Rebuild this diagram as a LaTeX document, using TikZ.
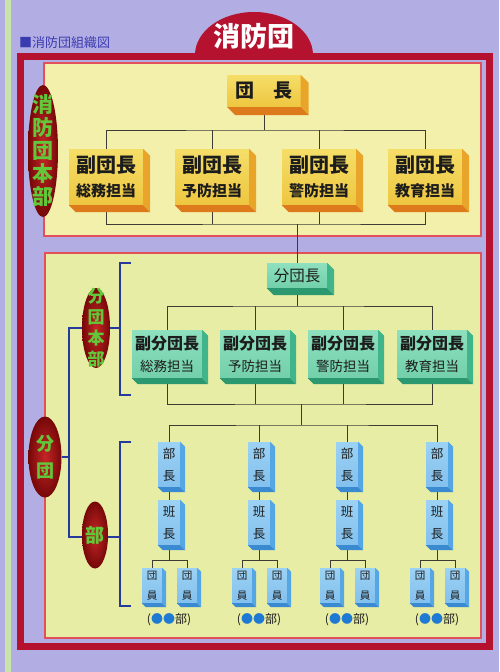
\documentclass[tikz,border=0pt]{standalone}
\usepackage{fontspec}
\setmainfont{Noto Sans CJK JP}
\usepackage{tikz}
\usetikzlibrary{calc,shapes.geometric}

\definecolor{lilac}{HTML}{B2AEE4}
\definecolor{stripe}{HTML}{C8E4A6}
\definecolor{framered}{HTML}{B4122E}
\definecolor{pinkline}{HTML}{E2505C}
\definecolor{paneltop}{HTML}{F3F0AC}
\definecolor{panellow}{HTML}{E7EDA4}
\definecolor{ink}{HTML}{1C1C1C}
\definecolor{wire}{HTML}{3C3C34}
\definecolor{navy}{HTML}{263A9E}
\definecolor{leaf}{HTML}{62C83A}
\definecolor{dotblue}{HTML}{1E7AD2}
\definecolor{capblue}{HTML}{3B3BB0}
\definecolor{goldtop}{HTML}{F5DE68}
\definecolor{goldlow}{HTML}{EEC640}
\definecolor{goldside}{HTML}{E9A52A}
\definecolor{goldbottom}{HTML}{DD7A1C}
\definecolor{minttop}{HTML}{8EE0BE}
\definecolor{mintlow}{HTML}{72D0AA}
\definecolor{mintside}{HTML}{40B48A}
\definecolor{mintbottom}{HTML}{2C9870}
\definecolor{skytop}{HTML}{9CD2F4}
\definecolor{skylow}{HTML}{82C0EE}
\definecolor{skyside}{HTML}{55A6E4}
\definecolor{skybottom}{HTML}{3A8AD2}
\definecolor{capin}{HTML}{C62626}
\definecolor{capout}{HTML}{760808}

\pgfdeclarelayer{bg}
\pgfdeclarelayer{wires}
\pgfsetlayers{bg,wires,main}

% box with a right side and a bottom face
\newcommand{\hako}[6][]{%
  \node[#3,#1] (#2) at (#4) {#6};
  \fill[#3 side] (#2.north east) -- ++(#5,#5) -- ($(#2.south east)+(#5,#5)$) -- (#2.south east) -- cycle;
  \fill[#3 bottom] (#2.south west) -- (#2.south east) -- ($(#2.south east)+(#5,#5)$) -- ($(#2.south west)+(#5,#5)$) -- cycle;
}

\begin{document}
\begin{tikzpicture}[x=1pt, y=-1pt,
  conn/.style={draw=wire, line width=0.9pt},
  blueline/.style={draw=navy, line width=1.5pt},
  panel/.style={draw=pinkline, line width=2pt},
  gold/.style={top color=goldtop, bottom color=goldlow, inner sep=0pt, align=center, text=ink},
  gold side/.style={fill=goldside},
  gold bottom/.style={fill=goldbottom},
  mint/.style={top color=minttop, bottom color=mintlow, inner sep=0pt, align=center, text=ink},
  mint side/.style={fill=mintside},
  mint bottom/.style={fill=mintbottom},
  sky/.style={top color=skytop, bottom color=skylow, inner sep=0pt, align=center, text=ink},
  sky side/.style={fill=skyside},
  sky bottom/.style={fill=skybottom},
  headbox/.style={minimum width=73pt, minimum height=32pt, font=\bfseries\fontsize{19}{19}\selectfont},
  vicebox/.style={minimum width=74pt, minimum height=56pt, font=\bfseries\fontsize{20}{24}\selectfont},
  chiefbox/.style={minimum width=60pt, minimum height=25pt, font=\fontsize{15.5}{16}\selectfont},
  subbox/.style={minimum width=70pt, minimum height=48pt, font=\fontsize{16}{22}\selectfont},
  tallbox/.style={minimum width=22pt, minimum height=45pt, font=\fontsize{12.5}{22}\selectfont},
  tinybox/.style={minimum width=20pt, minimum height=35pt, font=\fontsize{10.5}{20}\selectfont},
  capsule/.style={ellipse, inner color=capin, outer color=capout, inner sep=0pt},
  capsule text/.style={text=leaf, align=center, inner sep=0pt},
  tagtext/.style={text=ink, inner sep=0pt, font=\fontsize{12}{12}\selectfont},
]
\useasboundingbox (0,0) rectangle (499,672);

% Sfondo e cornice
\begin{pgfonlayer}{bg}
  \fill[lilac] (0,0) rectangle (499,672);
  \fill[stripe] (5,0) rectangle (11,672);
  \draw[panel, fill=paneltop] (44,63) rectangle (481,236);
  \draw[panel, fill=panellow] (45,253) rectangle (481,638);
  \draw[framered, line width=7pt] (20,56.5) rectangle (489,646);
  \fill[framered] (195,58) -- (195,55) arc[start angle=180, end angle=360, x radius=59, y radius=43] -- (313,58) -- cycle;
\end{pgfonlayer}

\node[text=white, font=\bfseries\fontsize{27}{27}\selectfont] (title) at (254,36) {消防団};
\node[anchor=west, text=capblue, inner sep=0pt, font=\fontsize{13}{13}\selectfont] (caption) at (19,43) {■消防団組織図};

%団本部
\hako[headbox]{dancho}{gold}{264,91}{8}{団\hspace{1em}長}
\hako[vicebox]{fuku1}{gold}{106,177}{7}{副団長\\{\fontsize{15}{15}\selectfont 総務担当}}
\hako[vicebox]{fuku2}{gold}{212,177}{7}{副団長\\{\fontsize{15}{15}\selectfont 予防担当}}
\hako[vicebox]{fuku3}{gold}{319,177}{7}{副団長\\{\fontsize{15}{15}\selectfont 警防担当}}
\hako[vicebox]{fuku4}{gold}{425,177}{7}{副団長\\{\fontsize{15}{15}\selectfont 教育担当}}

% 分団本部
\hako[chiefbox]{bundancho}{mint}{297,275.5}{7}{分団長}
\hako[subbox]{fukub1}{mint}{167,354}{6}{{\bfseries 副分団長}\\{\fontsize{13.5}{14}\selectfont 総務担当}}
\hako[subbox]{fukub2}{mint}{255,354}{6}{{\bfseries 副分団長}\\{\fontsize{13.5}{14}\selectfont 予防担当}}
\hako[subbox]{fukub3}{mint}{343,354}{6}{{\bfseries 副分団長}\\{\fontsize{13.5}{14}\selectfont 警防担当}}
\hako[subbox]{fukub4}{mint}{432,354}{6}{{\bfseries 副分団長}\\{\fontsize{13.5}{14}\selectfont 教育担当}}

% 部
\foreach \g/\x in {1/169,2/259,3/347,4/437}{
  \hako[tallbox]{bucho\g}{sky}{\x,464.5}{5}{部\\長}
  \hako[tallbox]{hancho\g}{sky}{\x,522.5}{5}{班\\長}
  \hako[tinybox]{danA\g}{sky}{\x-17,585.5}{4}{団\\員}
  \hako[tinybox]{danB\g}{sky}{\x+18,585.5}{4}{団\\員}
  \node[tagtext] (tag\g) at (\x,620) {(\textcolor{dotblue}{●●}部)};
}

% Ovali a sinistra
\node[capsule, minimum width=30pt, minimum height=132pt] (honbu) at (43,151) {};
\node[capsule text, font=\bfseries\fontsize{21}{23}\selectfont] (honbuT) at (honbu) {消\\防\\団\\本\\部};
\node[capsule, minimum width=33pt, minimum height=81pt] (bundan) at (45,457) {};
\node[capsule text, font=\bfseries\fontsize{18}{27}\selectfont] (bundanT) at (bundan) {分\\団};
\node[capsule, minimum width=28pt, minimum height=80pt] (bdhonbu) at (96,328) {};
\node[capsule text, font=\bfseries\fontsize{17}{21}\selectfont] (bdhonbuT) at (bdhonbu) {分\\団\\本\\部};
\node[capsule, minimum width=26pt, minimum height=67pt] (buoval) at (95,535) {};
\node[capsule text, font=\bfseries\fontsize{19}{19}\selectfont] (buovalT) at (buoval) {部};

% Collegamenti
\begin{pgfonlayer}{wires}
  \coordinate (busA) at (264,130);
  \draw[conn] (dancho.south) -- (busA);
  \draw[conn] (fuku1.north) |- (busA) -| (fuku4.north);
  \draw[conn] (fuku2.north) -- (fuku2.north |- busA);
  \draw[conn] (fuku3.north) -- (fuku3.north |- busA);
  \coordinate (busB) at (297,224);
  \draw[conn] (fuku1.south) |- (busB) -| (fuku4.south);
  \draw[conn] (fuku2.south) -- (fuku2.south |- busB);
  \draw[conn] (fuku3.south) -- (fuku3.south |- busB);
  \draw[conn] (busB) -- (bundancho.north);

  \coordinate (busC) at (297,306);
  \draw[conn] (bundancho.south) -- (busC);
  \draw[conn] (fukub1.north) |- (busC) -| (fukub4.north);
  \draw[conn] (fukub2.north) -- (fukub2.north |- busC);
  \draw[conn] (fukub3.north) -- (fukub3.north |- busC);
  \coordinate (busD) at (301,404);
  \coordinate (busE) at (301,425);
  \draw[conn] (fukub1.south) |- (busD) -| (fukub4.south);
  \draw[conn] (fukub2.south) -- (fukub2.south |- busD);
  \draw[conn] (fukub3.south) -- (fukub3.south |- busD);
  \draw[conn] (busD) -- (busE);
  \draw[conn] (bucho1.north) |- (busE) -| (bucho4.north);
  \draw[conn] (bucho2.north) -- (bucho2.north |- busE);
  \draw[conn] (bucho3.north) -- (bucho3.north |- busE);
  \foreach \g in {1,...,4}{
    \draw[conn] (bucho\g) -- (hancho\g);
    \coordinate (fork\g) at ($(hancho\g.south)+(0,15)$);
    \draw[conn] (hancho\g.south) -- (fork\g);
    \draw[conn] (danA\g.north) |- (fork\g) -| (danB\g.north);
  }

  % linee blu
  \coordinate (spTop) at (69,328);
  \coordinate (spBot) at (69,537);
  \coordinate (brA) at (120,328);
  \coordinate (brB) at (120,537);
  \coordinate (tickA1) at (131,263);
  \coordinate (tickA2) at (131,395);
  \coordinate (tickB1) at (131,442);
  \coordinate (tickB2) at (131,606);
  \draw[blueline] (bundan.east) -- (bundan.east -| spTop);
  \draw[blueline] (brA) -- (spTop) -- (spBot) -- (brB);
  \draw[blueline] (tickA1) -| (brA) |- (tickA2);
  \draw[blueline] (tickB1) -| (brB) |- (tickB2);
\end{pgfonlayer}
\end{tikzpicture}
\end{document}
